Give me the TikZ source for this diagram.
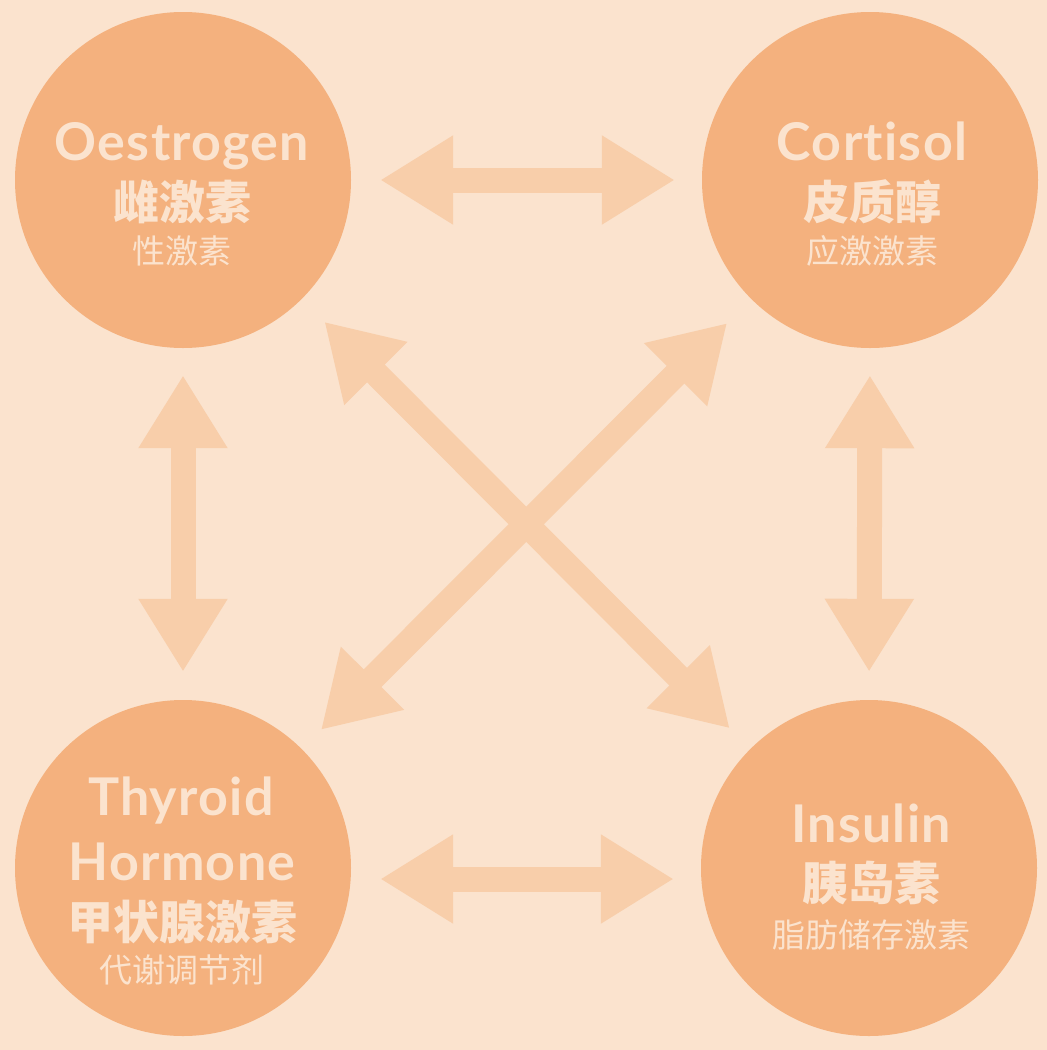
\documentclass[tikz,border=0pt]{standalone}
\usepackage{fontspec}
\usetikzlibrary{arrows.meta}
\newfontfamily\cjk{Noto Sans CJK SC}
\newfontfamily\latfont{Lato}[LetterSpace=2.5, Ligatures={NoCommon,NoRare,NoDiscretionary}]
\definecolor{bgc}{HTML}{FBE3CE}
\definecolor{circc}{HTML}{F4B17E}
\definecolor{arrc}{HTML}{F8CEAA}
\definecolor{txtc}{HTML}{FBE3CE}
\tikzset{
  hcirc/.style={circle, fill=circc, draw=none, minimum size=336pt, inner sep=0pt},
  entitle/.style={anchor=base, text=txtc, inner sep=0pt, font=\latfont\bfseries\fontsize{52}{52}\selectfont},
  cnbold/.style={anchor=center, text=txtc, inner sep=0pt, font=\cjk\bfseries\fontsize{46}{46}\selectfont},
  cnreg/.style={anchor=center, text=txtc, inner sep=0pt, font=\cjk\fontsize{33}{33}\selectfont},
  dblarrow/.style={draw=arrc, line width=25pt,
    {Triangle[length=73pt,width=84pt]}-{Triangle[length=73pt,width=84pt]}}
}
\begin{document}
\begin{tikzpicture}[x=1pt,y=-1pt]
\fill[bgc] (0,0) rectangle (1047,1050);
\useasboundingbox (0,0) rectangle (1047,1050);

\node[hcirc] (tl) at (183,180) {};
\node[hcirc] (tr) at (870,180) {};
\node[hcirc] (bl) at (183,868) {};
\node[hcirc] (br) at (869,868) {};

% arrows
\draw[dblarrow, shorten <=29pt, shorten >=27pt] (tl) -- (tr);
\draw[dblarrow, shorten <=29pt, shorten >=27pt] ([yshift=-11pt]bl.east) -- ([yshift=-11pt]br.west);
\draw[dblarrow, shorten <=27pt, shorten >=28pt] (tl.south) -- (bl.north);
\draw[dblarrow, shorten <=27pt, shorten >=28pt] (tr.south) -- (br.north);
\draw[dblarrow, shorten <=32pt, shorten >=29pt] (tl) -- (br);
\draw[dblarrow, shorten <=34pt, shorten >=27pt] (tr) -- (bl);

% texts
\node[entitle] (t1) at (182,160) {Oestrogen};
\node[cnbold] (t2) at (182,202) {雌激素};
\node[cnreg] (t3) at (182,251) {性激素};

\node[entitle] (r1) at (872,160) {Cortisol};
\node[cnbold] (r2) at (872,202) {皮质醇};
\node[cnreg] (r3) at (872,251) {应激激素};

\node[entitle] (b1) at (181,815) {Thyroid};
\node[entitle] (b2) at (182,880) {Hormone};
\node[cnbold] (b3) at (182,922) {甲状腺激素};
\node[cnreg] (b4) at (182,970) {代谢调节剂};

\node[entitle] (s1) at (871,842) {Insulin};
\node[cnbold] (s2) at (871,883) {胰岛素};
\node[cnreg] (s3) at (871,935) {脂肪储存激素};
\end{tikzpicture}
\end{document}
